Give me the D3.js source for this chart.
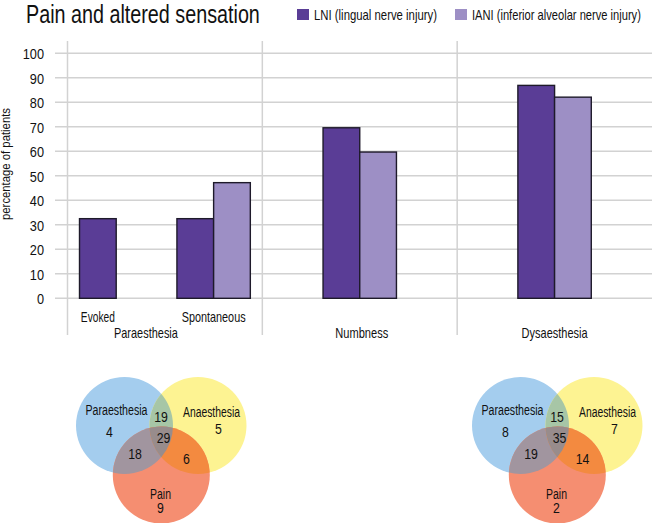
<!DOCTYPE html>
<html><head><meta charset="utf-8">
<script src="https://cdn.jsdelivr.net/npm/d3@7"></script>
<style>
body{margin:0;background:#fff;}
text{font-family:"Liberation Sans",Arial,sans-serif;fill:#111;}
</style></head>
<body><svg id="c" width="652" height="523"></svg>
<script>
const groups = ["Paraesthesia", "Numbness", "Dysaesthesia"];
const subcats = ["Evoked", "Spontaneous"];
const seriesNames = ["LNI (lingual nerve injury)", "IANI (inferior alveolar nerve injury)"];
const lniValues = [32.5, 32.5, 69.6, 86.9];
const ianiValues = [null, 47.2, 59.7, 82.1];
const yTicks = [0, 10, 20, 30, 40, 50, 60, 70, 80, 90, 100];
const vennSets = ["Paraesthesia", "Anaesthesia", "Pain"];
const vennLNI = {P: 4, A: 5, X: 9, PA: 19, PX: 18, AX: 6, PAX: 29};
const vennIANI = {P: 8, A: 7, X: 2, PA: 15, PX: 19, AX: 14, PAX: 35};

const svg = d3.select("#c");
const colLNI = "#5a3d96", colIANI = "#9d8fc5";
const K = 0.82; // condensation

function txt(parent, x, y, s, fs, anchor, width, rot) {
  const t = parent.append("text").attr("x", 0).attr("y", 0)
    .attr("font-size", fs).attr("text-anchor", anchor || "start").text(s);
  let k = K;
  if (width) k = width / t.node().getComputedTextLength();
  t.attr("transform", `translate(${x},${y})` + (rot ? ` rotate(${rot})` : "") + ` scale(${k},1)`);
  return t;
}

// title + legend
txt(svg, 26, 23, "Pain and altered sensation", 26, "start", 234);
const leg = [[297, seriesNames[0], colLNI, 123], [455, seriesNames[1], colIANI, 169]];
leg.forEach(([x, t, c, w]) => {
  svg.append("rect").attr("x", x).attr("y", 9).attr("width", 12).attr("height", 11).attr("fill", c);
  txt(svg, x + 17, 20, t, 15, "start", w);
});

// scales
const y = d3.scaleLinear().domain([0, 100]).range([298.3, 53.3]);
const xg = d3.scaleBand().domain(groups).range([67.5, 652]).padding(0);
const xs = d3.scaleBand().domain(subcats).range([xg("Paraesthesia"), xg("Paraesthesia") + xg.bandwidth()]);
const barW = 36.7;

// gridlines
svg.append("g").selectAll("line").data(yTicks).join("line")
  .attr("x1", 55).attr("x2", 652).attr("y1", d => y(d)).attr("y2", d => y(d))
  .attr("stroke", "#d2d2d2").attr("stroke-width", 1.5);
svg.append("g").selectAll("line").data(groups).join("line")
  .attr("x1", d => xg(d)).attr("x2", d => xg(d)).attr("y1", 41).attr("y2", 335)
  .attr("stroke", "#d2d2d2").attr("stroke-width", 1.5);

// y axis labels
const yAxis = d3.axisLeft(y).tickValues(yTicks).tickSize(0).tickPadding(0);
const ga = svg.append("g").attr("transform", "translate(44,0)").call(yAxis);
ga.select(".domain").remove();
ga.selectAll(".tick text").each(function() {
  d3.select(this).attr("font-size", 15).attr("font-family", null).attr("fill", "#111")
   .attr("x", 0).attr("dy", "0.36em").attr("transform", "scale(0.85,1)");
});
txt(svg, 10, 164, "percentage of patients", 12, "middle", 112, -90);

const slots = [
  {label: subcats[0], cx: xs("Evoked") + xs.bandwidth() / 2},
  {label: subcats[1], cx: xs("Spontaneous") + xs.bandwidth() / 2},
  {label: groups[1], cx: xg("Numbness") + xg.bandwidth() / 2},
  {label: groups[2], cx: xg("Dysaesthesia") + xg.bandwidth() / 2}
];
const bars = [];
slots.forEach((s, i) => {
  bars.push({x: s.cx - barW, v: lniValues[i], c: colLNI});
  if (ianiValues[i] != null) bars.push({x: s.cx, v: ianiValues[i], c: colIANI});
});
svg.append("g").selectAll("rect").data(bars).join("rect")
  .attr("x", d => d.x).attr("width", barW)
  .attr("y", d => y(d.v)).attr("height", d => y(0) - y(d.v))
  .attr("fill", d => d.c).attr("stroke", "#1e1a2a").attr("stroke-width", 1.4);

// category labels
txt(svg, slots[0].cx - barW / 2, 322, subcats[0], 14, "middle", 34);
txt(svg, slots[1].cx, 322, subcats[1], 14, "middle", 64);
txt(svg, xg("Paraesthesia") + xg.bandwidth() / 2 - 19, 338, groups[0], 14, "middle", 64);
txt(svg, slots[2].cx + 2, 338, groups[1], 14, "middle", 53);
txt(svg, slots[3].cx, 338, groups[2], 14, "middle", 66);

// venn diagrams
const cBlue = "#a4cdee", cYel = "#fdf392", cRed = "#f58e71";
const cBY = "#a7c6a6", cBR = "#a1959f", cYR = "#f38a40", cAll = "#988c8c";
function venn(ox, counts, id) {
  const r = 48.5;
  const P = [ox, 425.5], A = [ox + 73.5, 425.5], X = [ox + 36.8, 475];
  const g = svg.append("g");
  const defs = g.append("defs");
  [["P", P], ["A", A], ["X", X]].forEach(([k, c]) => {
    defs.append("clipPath").attr("id", id + k).append("circle").attr("cx", c[0]).attr("cy", c[1]).attr("r", r);
  });
  defs.append("clipPath").attr("id", id + "PA").attr("clip-path", `url(#${id}A)`)
    .append("circle").attr("cx", P[0]).attr("cy", P[1]).attr("r", r);
  g.append("circle").attr("cx", P[0]).attr("cy", P[1]).attr("r", r).attr("fill", cBlue);
  g.append("circle").attr("cx", A[0]).attr("cy", A[1]).attr("r", r).attr("fill", cYel);
  g.append("circle").attr("cx", X[0]).attr("cy", X[1]).attr("r", r).attr("fill", cRed);
  g.append("circle").attr("cx", A[0]).attr("cy", A[1]).attr("r", r).attr("fill", cBY).attr("clip-path", `url(#${id}P)`);
  g.append("circle").attr("cx", X[0]).attr("cy", X[1]).attr("r", r).attr("fill", cBR).attr("clip-path", `url(#${id}P)`);
  g.append("circle").attr("cx", X[0]).attr("cy", X[1]).attr("r", r).attr("fill", cYR).attr("clip-path", `url(#${id}A)`);
  g.append("circle").attr("cx", X[0]).attr("cy", X[1]).attr("r", r).attr("fill", cAll).attr("clip-path", `url(#${id}PA)`);
  const t = (x, yy, s, w) => txt(g, x, yy + 5.5, s, 15, "middle", w);
  t(ox - 8, 409, vennSets[0], 62);
  t(ox - 15, 431.5, counts.P);
  t(ox + 87, 411.5, vennSets[1], 57);
  t(ox + 94, 428.5, counts.A);
  t(ox + 36.5, 416, counts.PA);
  t(ox + 39, 437, counts.PAX);
  t(ox + 10.5, 453.5, counts.PX);
  t(ox + 62, 458, counts.AX);
  t(ox + 36, 493, vennSets[2], 21);
  t(ox + 36, 507, counts.X);
}
venn(124.5, vennLNI, "vl");
venn(520.5, vennIANI, "vr");
</script></body></html>
